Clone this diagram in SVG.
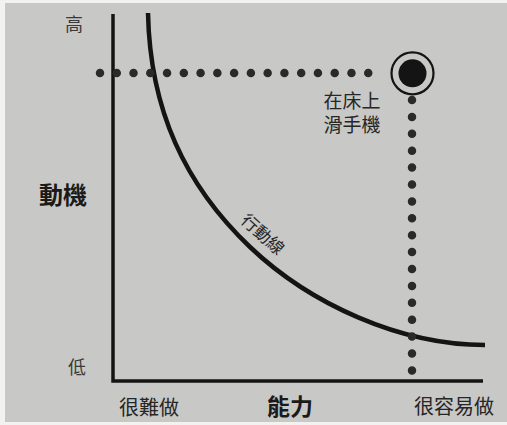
<svg xmlns="http://www.w3.org/2000/svg" width="507" height="425" viewBox="0 0 507 425">
<style>
.lbl{font-family:"Noto Sans CJK TC","Noto Sans CJK SC",sans-serif;fill:#262626;text-anchor:middle}
.b{font-weight:bold;fill:#1a1a1a}
.dot{fill:none;stroke:#2a2a2a;stroke-width:8.5;stroke-linecap:round}
</style>
<rect x="0" y="0" width="507" height="425" fill="#f2f2f0"/>
<rect x="5" y="3" width="502" height="419" fill="#c8c8c6"/>
<g id="axes">
<path d="M113,14 V381 H483" fill="none" stroke="#141414" stroke-width="3.5" stroke-linejoin="miter"/>
</g>
<g id="curve">
<path d="M148,13 C150,110 185,185 250,247 C310,304 400,345 485,345" fill="none" stroke="#141414" stroke-width="4.5"/>
<text class="lbl" font-size="17" transform="translate(263,234) rotate(42)" y="6.5">行動線</text>
</g>
<g id="connectors">
<line class="dot" x1="100" y1="73" x2="385" y2="73" stroke-dasharray="0 16.765"/>
<line class="dot" x1="412" y1="100" x2="412" y2="387.3" stroke-dasharray="0 16.9"/>
</g>
<g id="target">
<circle cx="412.5" cy="73.3" r="21" fill="none" stroke="#141414" stroke-width="2.2"/>
<circle cx="412.5" cy="73.3" r="14" fill="#141414"/>
<text class="lbl" font-size="19" x="352" y="107.5">在床上</text>
<text class="lbl" font-size="19" x="352" y="132">滑手機</text>
</g>
<g id="labels">
<text class="lbl" font-size="18" x="74" y="31" style="fill:#3a3a3a">高</text>
<text class="lbl" font-size="18" x="77" y="374" style="fill:#3a3a3a">低</text>
<text class="lbl b" font-size="24" x="63" y="204">動機</text>
<text class="lbl" font-size="20" x="149" y="414.5">很難做</text>
<text class="lbl b" font-size="23" x="290" y="414.5">能力</text>
<text class="lbl" font-size="20" x="454" y="414">很容易做</text>
</g>
</svg>
